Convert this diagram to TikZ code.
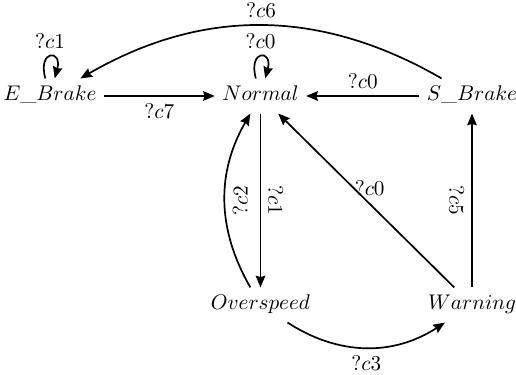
\documentclass[tikz,border=0pt]{standalone}
\usetikzlibrary{arrows.meta}
\begin{document}
\begin{tikzpicture}[x=0.4717pt,y=0.4717pt,
  state/.style={inner sep=3.33pt, text height=7pt, text depth=2.5pt},
  arr/.style={-{Stealth[length=5.5pt,width=4.5pt,inset=0.6pt]}, line width=0.8pt},
  every loop/.style={}]
\useasboundingbox (0,0) rectangle (516,375);
\node[state] (eb) at (50,279) {$E\_Brake$};
\node[state] (nm) at (260.5,279) {$Normal$};
\node[state] (sb) at (472,279) {$S\_Brake$};
\node[state] (ov) at (260.5,70) {$Overspeed$};
\node[state] (wa) at (472,70) {$Warning$};

\draw[arr] (eb) to[loop above] node[above] {$?c1$} ();
\draw[arr] (nm) to[loop above] node[above] {$?c0$} ();
\draw[arr] (eb) -- node[below] {$?c7$} (nm);
\draw[arr] (sb) -- node[above] {$?c0$} (nm);
\draw[arr] (sb) to[bend right=30] node[above] {$?c6$} (eb);
\draw[arr] (nm) -- node[rotate=-90, anchor=south] {$?c1$} (ov);
\draw[arr] (ov) to[bend left=30] node[rotate=90, anchor=north] {$?c2$} (nm);
\draw[arr] (wa) -- node[pos=0.57, anchor=west, inner sep=0pt] {$?c0$} (nm);
\draw[arr] (wa) -- node[rotate=-90, anchor=north] {$?c5$} (sb);
\draw[arr] (ov) to[bend right=33] node[below] {$?c3$} (wa);
\end{tikzpicture}
\end{document}
